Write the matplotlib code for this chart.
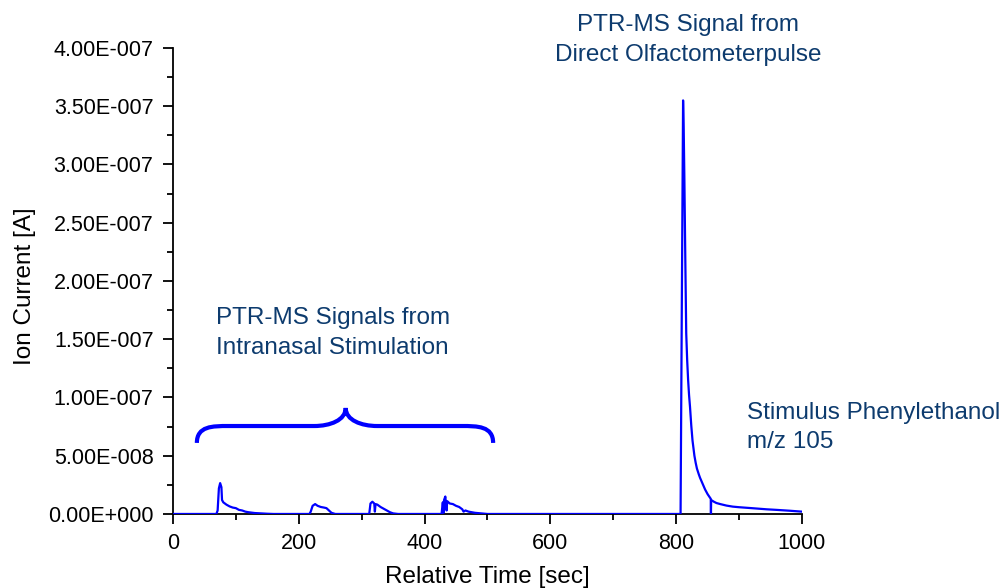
import matplotlib.pyplot as plt
import numpy as np
from matplotlib.path import Path
from matplotlib.patches import PathPatch
from matplotlib.ticker import FuncFormatter, MultipleLocator

plt.rcParams["font.family"] = ["Liberation Sans", "DejaVu Sans"]

# time [sec] and ion current [1e-8 A]
time = [
    0, 69, 71, 73, 75, 77, 78, 80, 85, 90, 95, 100, 105, 110, 115, 120, 130, 140, 150, 160,
    217, 219, 222, 226, 230, 235, 240, 244, 248, 252, 258,
    312, 314, 317, 320, 321, 322, 325, 330, 335, 340, 345, 350, 358,
    427, 429, 430, 431, 433, 435, 436, 440, 445, 450, 455, 460, 462, 465, 470, 480, 490, 500,
    807, 809, 811, 812, 813, 814.5, 816, 817.5, 819, 820.5, 822, 824, 826, 829, 831,
    833, 836, 838, 842, 846, 850, 855,
    855.3, 855.6, 860, 864, 870, 880, 890, 900, 920, 944, 960, 980, 1000,
]
current = [
    0, 0, 0.3, 2.2, 2.65, 2.3, 1.2, 1.0, 0.8, 0.65, 0.55, 0.5, 0.35, 0.3, 0.2, 0.15, 0.08, 0.05, 0.02, 0,
    0, 0.2, 0.7, 0.85, 0.7, 0.6, 0.55, 0.5, 0.3, 0.1, 0,
    0, 0.9, 1.05, 0.9, 0.2, 0.85, 0.8, 0.6, 0.45, 0.3, 0.15, 0.05, 0,
    0, 1.0, 0.1, 1.2, 1.5, 0.3, 1.1, 0.9, 0.85, 0.7, 0.6, 0.4, 0.2, 0.3, 0.2, 0.1, 0.05, 0,
    0, 18, 35.5, 33, 29, 22, 15.5, 13.2, 11.5, 10.2, 9.2, 7.6, 6.3, 5.0, 4.4,
    3.9, 3.4, 3.1, 2.6, 2.1, 1.7, 1.3,
    0.02, 1.2, 1.05, 0.94, 0.85, 0.72, 0.63, 0.58, 0.5, 0.4, 0.35, 0.28, 0.2,
]

TEXT_COLOR = "#0d3b6e"
LINE_COLOR = "#0000ff"


def sci_label(v, pos):
    if v == 0:
        return "0.00E+000"
    exp = int(np.floor(np.log10(abs(v))))
    mant = v / 10 ** exp
    return f"{mant:.2f}E{exp:+04d}"


fig = plt.figure(figsize=(10.08, 5.88), dpi=100)
ax = fig.add_axes([0.1716, 0.1259, 0.6240, 0.7925])

t = np.array(time)
y = np.array(current) * 1e-8
ax.plot(t, y, color=LINE_COLOR, linewidth=1.6, zorder=3)

ax.set_xlim(0, 1000)
ax.set_ylim(0, 4e-7)
ax.xaxis.set_major_locator(MultipleLocator(200))
ax.xaxis.set_minor_locator(MultipleLocator(100))
ax.yaxis.set_major_locator(MultipleLocator(0.5e-7))
ax.yaxis.set_minor_locator(MultipleLocator(0.25e-7))
ax.yaxis.set_major_formatter(FuncFormatter(sci_label))
ax.tick_params(which="major", direction="out", length=7, width=1.3, labelsize=15.5, pad=7)
ax.tick_params(which="minor", direction="out", length=4, width=1.3)
ax.spines["top"].set_visible(False)
ax.spines["right"].set_visible(False)
ax.spines["left"].set_linewidth(1.3)
ax.spines["bottom"].set_linewidth(1.3)
ax.set_xlabel("Relative Time [sec]", fontsize=17.5, labelpad=8)
ax.set_ylabel("Ion Current [A]", fontsize=17.5)
ax.yaxis.set_label_coords(-0.218, 0.488)

# curly brace over the intranasal pulses
bx0, bx1, bxm = 38, 509, 274.6
by0, byh, byt = 0.61e-7, 0.755e-7, 0.91e-7
r = 25
verts = [
    (bx0, by0), (bx0, byh), (bx0 + r, byh), (bx0 + 2 * r, byh),
    (bxm - 2 * r, byh),
    (bxm - r, byh), (bxm, byh + 0.05e-7), (bxm, byt),
    (bxm, byh + 0.05e-7), (bxm + r, byh), (bxm + 2 * r, byh),
    (bx1 - 2 * r, byh),
    (bx1 - r, byh), (bx1, byh), (bx1, by0),
]
codes = [Path.MOVETO, Path.CURVE4, Path.CURVE4, Path.CURVE4,
         Path.LINETO,
         Path.CURVE4, Path.CURVE4, Path.CURVE4,
         Path.CURVE4, Path.CURVE4, Path.CURVE4,
         Path.LINETO,
         Path.CURVE4, Path.CURVE4, Path.CURVE4]
ax.add_patch(PathPatch(Path(verts, codes), facecolor="none",
                       edgecolor=LINE_COLOR, linewidth=3, clip_on=False))

ax.text(68, 1.554e-7, "PTR-MS Signals from\nIntranasal Stimulation",
        fontsize=17.5, color=TEXT_COLOR, ha="left", va="center", linespacing=1.5)
ax.text(818.7, 4.07e-7, "PTR-MS Signal from\nDirect Olfactometerpulse",
        fontsize=17.5, color=TEXT_COLOR, ha="center", va="center", linespacing=1.5,
        clip_on=False)
ax.text(912.6, 0.74e-7, "Stimulus Phenylethanol\nm/z 105",
        fontsize=17.5, color=TEXT_COLOR, ha="left", va="center", linespacing=1.4,
        clip_on=False)

fig.savefig("out.png", dpi=100)
